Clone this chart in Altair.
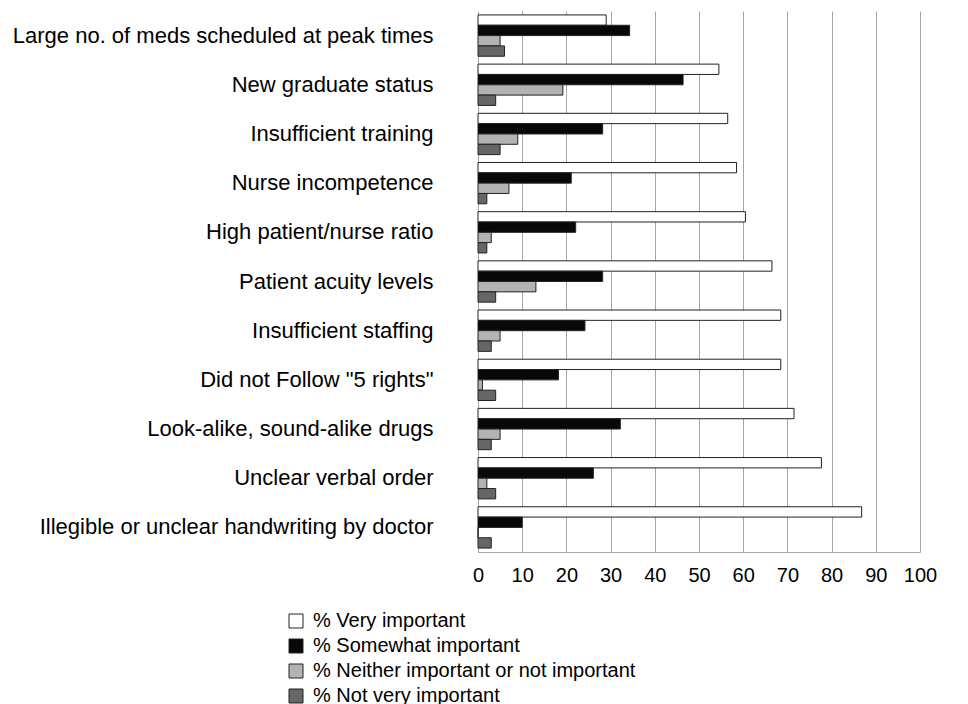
import altair as alt
import pandas as pd

categories = [
    "Large no. of meds scheduled at peak times",
    "New graduate status",
    "Insufficient training",
    "Nurse incompetence",
    "High patient/nurse ratio",
    "Patient acuity levels",
    "Insufficient staffing",
    'Did not Follow "5 rights"',
    "Look-alike, sound-alike drugs",
    "Unclear verbal order",
    "Illegible or unclear handwriting by doctor",
]
series = [
    "% Very important",
    "% Somewhat important",
    "% Neither important or not important",
    "% Not very important",
]
very_important = [29, 54.5, 56.5, 58.5, 60.5, 66.5, 68.5, 68.5, 71.5, 77.7, 86.8]
somewhat_important = [34.3, 46.4, 28.2, 21.1, 22.1, 28.2, 24.2, 18.2, 32.2, 26.1, 10]
neither = [5, 19.2, 9, 7, 3, 13.1, 5, 1, 5, 2, 0]
not_very = [6, 4, 5, 2, 2, 4, 3, 4, 3, 4, 3]
colors = ["#ffffff", "#080808", "#b3b3b3", "#666666"]

rows = []
for s, vals in zip(series, [very_important, somewhat_important, neither, not_very]):
    for c, v in zip(categories, vals):
        rows.append({"category": c, "series": s, "value": v})
df = pd.DataFrame(rows)

FONT = "Liberation Sans"

chart = alt.Chart(df).mark_bar(stroke="#222222", strokeWidth=1).encode(
    x=alt.X(
        "value:Q",
        scale=alt.Scale(domain=[0, 100], nice=False),
        axis=alt.Axis(
            values=list(range(0, 101, 10)),
            title=None,
            ticks=False,
            tickSize=0,
            labelFontSize=20,
            labelFont=FONT,
            labelColor="#000000",
            labelPadding=13,
            grid=True,
            gridColor="#a6a6a6",
            domainColor="#a6a6a6",
            labelFlush=False,
        ),
    ),
    y=alt.Y(
        "category:N",
        sort=categories,
        scale=alt.Scale(paddingInner=0.16, paddingOuter=0.08),
        axis=alt.Axis(
            title=None,
            ticks=False,
            domain=False,
            labelFontSize=22,
            labelFont=FONT,
            labelColor="#000000",
            labelPadding=45,
            labelLimit=600,
        ),
    ),
    yOffset=alt.YOffset("series:N", sort=series),
    fill=alt.Fill(
        "series:N",
        sort=series,
        scale=alt.Scale(domain=series, range=colors),
        legend=alt.Legend(
            title=None,
            orient="none",
            legendX=-192,
            legendY=600,
            symbolType="square",
            symbolSize=196,
            symbolStrokeColor="#222222",
            symbolStrokeWidth=1,
            symbolOpacity=1,
            labelFontSize=20,
            labelFont=FONT,
            labelColor="#000000",
            labelOffset=7,
            rowPadding=5,
            labelLimit=600,
        ),
    ),
).properties(
    width=442,
    height=541,
    background="white",
    padding={"left": 4, "top": 3, "right": 5, "bottom": 5},
).configure_view(stroke="transparent", strokeWidth=0)

chart.save("out.html", embed_options={"renderer": "svg", "actions": False})
